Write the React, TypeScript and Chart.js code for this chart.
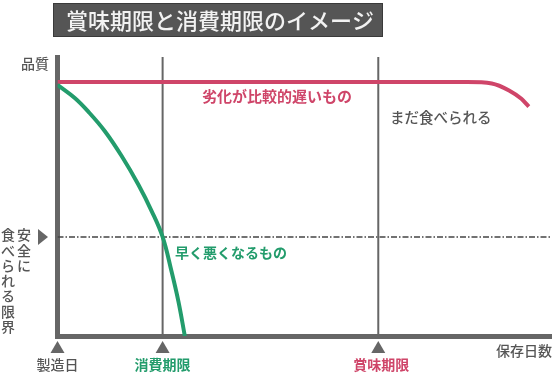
import React, { useEffect, useRef } from "react";
import { Chart, registerables } from "chart.js";

Chart.register(...registerables);

// ---- data ----
const chartTitle = "賞味期限と消費期限のイメージ";
const yAxisLabel = "品質";
const xAxisLabel = "保存日数";
const limitLabelCols = ["安全に", "食べられる限界"];

// slow-deteriorating food (red)
const slowX = [0, 40, 83, 88, 91.5, 94, 95.5];
const slowY = [91, 91, 91, 90.5, 88, 85, 82.2];
const slowLabel = "劣化が比較的遅いもの";
const stillEdible = "まだ食べられる";

// fast-deteriorating food (green)
const fastX = [0, 3.5, 6.2, 9.6, 13.0, 16.4, 19.1, 21.3, 23.1, 24.5, 25.8];
const fastY = [90, 85.3, 80.5, 73.4, 64.5, 54.2, 44.7, 35.5, 23.2, 12.4, 0];
const fastLabel = "早く悪くなるもの";

// milestones on the x axis
const milestoneX = [0, 21.3, 65];
const milestoneLabels = ["製造日", "消費期限", "賞味期限"];
const safeLimit = 35.5;

const RED = "#cf4569";
const GREEN = "#239c6c";
const GRAY = "#666666";
const TEXT = "#555555";
const FONT = '"Noto Sans CJK JP", "Noto Sans", sans-serif';

const zip = (xs: number[], ys: number[]) => xs.map((x, i) => ({ x, y: ys[i] }));

const annotations = {
  id: "annotations",
  afterDraw(chart: any) {
    const { ctx, scales } = chart;
    const xs = scales.x;
    const ys = scales.y;
    ctx.save();

    // title box
    ctx.fillStyle = "#555555";
    ctx.fillRect(53, 3, 330, 34);
    ctx.strokeStyle = "#3a3a3a";
    ctx.lineWidth = 1;
    ctx.strokeRect(53.5, 3.5, 329, 33);
    ctx.fillStyle = "#f2f2f2";
    ctx.font = `500 22px ${FONT}`;
    ctx.textAlign = "center";
    ctx.textBaseline = "middle";
    ctx.fillText(chartTitle, 220, 21);

    // y label
    ctx.fillStyle = TEXT;
    ctx.font = `500 14px ${FONT}`;
    ctx.fillText(yAxisLabel, 35, 64);

    // x label
    ctx.textAlign = "right";
    ctx.fillText(xAxisLabel, 552, 351);

    // milestones
    const colors = [TEXT, GREEN, RED];
    const bottom = ys.getPixelForValue(0);
    milestoneX.forEach((v, i) => {
      const px = xs.getPixelForValue(v);
      ctx.fillStyle = GRAY;
      ctx.beginPath();
      ctx.moveTo(px - 7, bottom + 17);
      ctx.lineTo(px + 7, bottom + 17);
      ctx.lineTo(px, bottom + 5);
      ctx.closePath();
      ctx.fill();
      ctx.fillStyle = colors[i];
      ctx.font = `${i === 0 ? "500 " : "bold "}14px ${FONT}`;
      ctx.textAlign = "center";
      ctx.fillText(milestoneLabels[i], px + (i === 2 ? 3 : 0), bottom + 29);
    });

    // safe limit marker & vertical label
    const ly = ys.getPixelForValue(safeLimit);
    ctx.fillStyle = GRAY;
    ctx.beginPath();
    ctx.moveTo(38, ly - 8);
    ctx.lineTo(38, ly + 8);
    ctx.lineTo(48, ly);
    ctx.closePath();
    ctx.fill();
    ctx.fillStyle = TEXT;
    ctx.font = `500 14px ${FONT}`;
    ctx.textAlign = "center";
    const colX = [24, 8];
    limitLabelCols.forEach((col, c) => {
      Array.from(col).forEach((ch, i) => {
        ctx.fillText(ch, colX[c], ly - 2 + i * 15.3);
      });
    });

    // curve labels
    ctx.textAlign = "center";
    ctx.fillStyle = RED;
    ctx.font = `bold 15px ${FONT}`;
    ctx.fillText(slowLabel, 277, 96);
    ctx.fillStyle = TEXT;
    ctx.font = `500 14.5px ${FONT}`;
    ctx.textAlign = "left";
    ctx.fillText(stillEdible, 390, 117);
    ctx.fillStyle = GREEN;
    ctx.font = `bold 14px ${FONT}`;
    ctx.fillText(fastLabel, 175, 253);

    ctx.restore();
  },
};

export default function App() {
  const ref = useRef<HTMLCanvasElement>(null);
  useEffect(() => {
    if (!ref.current) return;
    const vLines = milestoneX.slice(1).map((v) => ({
      data: [
        { x: v, y: 0 },
        { x: v, y: 100 },
      ],
      borderColor: GRAY,
      borderWidth: 2,
      pointRadius: 0,
      tension: 0,
    }));
    const chart = new Chart(ref.current, {
      type: "line",
      data: {
        datasets: [
          {
            data: zip(fastX, fastY),
            borderColor: GREEN,
            borderWidth: 4,
            pointRadius: 0,
            tension: 0.4,
          },
          {
            data: zip(slowX, slowY),
            borderColor: RED,
            borderWidth: 4,
            pointRadius: 0,
            cubicInterpolationMode: "monotone",
          },
          ...vLines,
          {
            data: [
              { x: 0, y: safeLimit },
              { x: 100, y: safeLimit },
            ],
            borderColor: "#444444",
            borderWidth: 1.5,
            borderDash: [6, 2, 1.5, 2],
            pointRadius: 0,
          },
        ] as any,
      },
      options: {
        responsive: false,
        animation: false,
        layout: { padding: { left: 57.5, top: 57, right: 9, bottom: 40 } },
        plugins: { legend: { display: false }, tooltip: { enabled: false } },
        scales: {
          x: {
            type: "linear",
            min: 0,
            max: 100,
            grid: { display: false, drawTicks: false },
            ticks: { display: false },
            border: { display: true, color: GRAY, width: 5 },
          },
          y: {
            type: "linear",
            min: 0,
            max: 100,
            grid: { display: false, drawTicks: false },
            ticks: { display: false },
            border: { display: true, color: GRAY, width: 5 },
          },
        },
      },
      plugins: [annotations],
    });
    return () => chart.destroy();
  }, []);
  return (
    <div style={{ position: "absolute", left: 0, top: 0, width: 560, height: 376, background: "#fff" }}>
      <canvas ref={ref} width={560} height={376} />
    </div>
  );
}
